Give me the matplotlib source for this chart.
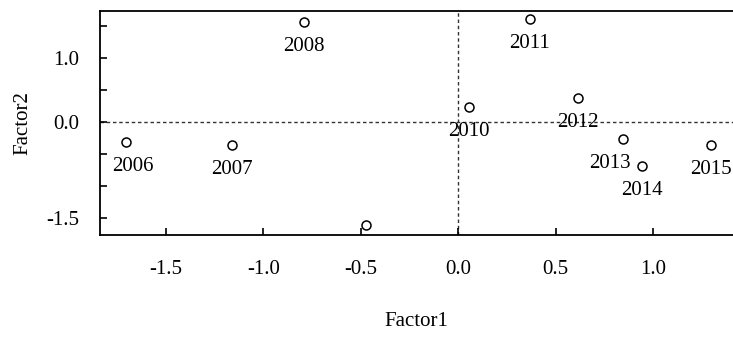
import numpy as np
import matplotlib.pyplot as plt

plt.rcParams['font.family'] = ['Liberation Serif', 'DejaVu Serif']
plt.rcParams['axes.unicode_minus'] = False

# factor scores per year (2009 point is drawn without a label)
labels = ['2006', '2007', '2008', '', '2010', '2011', '2012', '2013', '2014', '2015']
factor1 = [-1.704, -1.162, -0.793, -0.471, 0.056, 0.368, 0.614, 0.844, 0.942, 1.295]
factor2 = [-0.31, -0.36, 1.56, -1.61, 0.23, 1.61, 0.375, -0.27, -0.69, -0.36]

xticks = [-1.5, -1.0, -0.5, 0.0, 0.5, 1.0]
xticklabels = ['-1.5', '-1.0', '-0.5', '0.0', '0.5', '1.0']
yticks = [1.5, 1.0, 0.5, 0.0, -0.5, -1.0, -1.5]
yticklabels = ['', '1.0', '', '0.0', '', '', '-1.5']

fig = plt.figure(figsize=(7.33, 3.43), dpi=100)
ax = fig.add_axes([100 / 733, 108 / 343, 1 - 100 / 733, 224 / 343])

ax.axhline(0, color='#333333', lw=1, ls=(0, (2.5, 2)), zorder=1)
ax.axvline(0, color='#333333', lw=1, ls=(0, (2.5, 2)), zorder=1)

ax.scatter(factor1, factor2, s=42, facecolors='white', edgecolors='black',
           linewidths=1.1, zorder=3)

# small nudges so labels sit like in the original
nudge = {'2006': 5, '2013': -9}
for lab, x, y in zip(labels, factor1, factor2):
    if lab:
        ax.annotate(lab, (x, y), xytext=(nudge.get(lab, 0), -18),
                    textcoords='offset points', ha='center', va='center',
                    fontsize=15, zorder=4)

ax.set_xlim(-1.838, 1.41)
ax.set_ylim(-1.77, 1.73)
ax.set_xticks(xticks)
ax.set_xticklabels(xticklabels)
ax.set_yticks(yticks)
ax.set_yticklabels(yticklabels)
ax.tick_params(direction='in', length=5, width=1.2, labelsize=15)
ax.tick_params(axis='x', pad=18)
ax.tick_params(axis='y', pad=15)

for side in ['left', 'bottom', 'top']:
    ax.spines[side].set_linewidth(1.3)
ax.spines['right'].set_visible(False)

ax.set_xlabel('Factor1', fontsize=15, labelpad=24)
ax.set_ylabel('Factor2', fontsize=15, labelpad=10)

fig.savefig('out.png', dpi=100)
